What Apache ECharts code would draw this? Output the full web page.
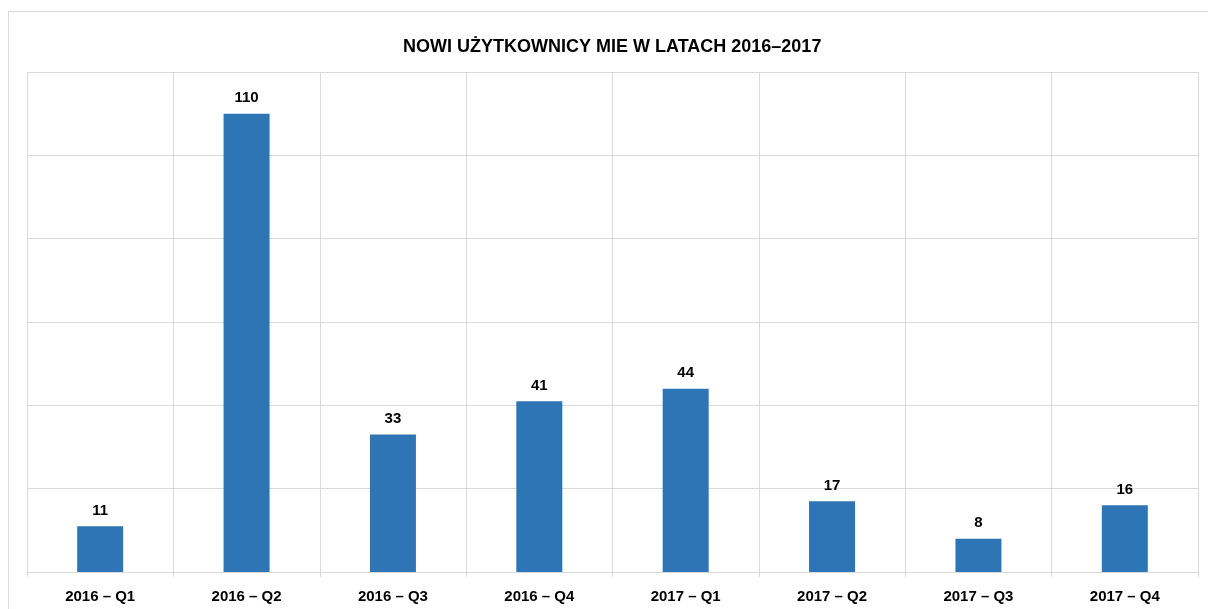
<!DOCTYPE html>
<html>
<head>
<meta charset="utf-8">
<script src="https://cdn.jsdelivr.net/npm/echarts@6/dist/echarts.min.js"></script>
<style>
html, body { margin: 0; padding: 0; background: #fff; }
#frame { position: absolute; left: 8px; top: 11px; width: 1210px; height: 610px; border: 1px solid #d9d9d9; box-sizing: border-box; }
#container { position: absolute; left: 0; top: 0; width: 1208px; height: 609px; }
</style>
</head>
<body>
<div id="frame"></div>
<div id="container"></div>
<script>
var dom = document.getElementById("container");
var myChart = echarts.init(dom);
var option = null;

// dane
var titleText = 'NOWI UŻYTKOWNICY MIE W LATACH 2016–2017';
var quarters = ['2016 – Q1', '2016 – Q2', '2016 – Q3', '2016 – Q4', '2017 – Q1', '2017 – Q2', '2017 – Q3', '2017 – Q4'];
var newUsers = [11, 110, 33, 41, 44, 17, 8, 16];

var fontName = 'Liberation Sans';

option = {
    animation: false,
    title: {
        text: titleText,
        left: 398,
        top: 33,
        textStyle: {
            fontFamily: fontName,
            fontSize: 18,
            fontWeight: 'bold',
            color: '#000'
        }
    },
    grid: {
        left: 27,
        right: 10,
        top: 72,
        bottom: 37,
        containLabel: false
    },
    xAxis: {
        type: 'category',
        data: quarters,
        axisLine: { lineStyle: { color: '#d9d9d9' } },
        axisTick: { show: true, length: 5, lineStyle: { color: '#d9d9d9' } },
        splitLine: { show: true, lineStyle: { color: '#d9d9d9' } },
        axisLabel: {
            margin: 17,
            fontFamily: fontName,
            fontSize: 15,
            fontWeight: 'bold',
            color: '#000'
        }
    },
    yAxis: {
        type: 'value',
        min: 0,
        max: 120,
        interval: 20,
        axisLabel: { show: false },
        axisLine: { show: false },
        axisTick: { show: false },
        splitLine: { show: true, lineStyle: { color: '#d9d9d9' } }
    },
    series: [
        {
            name: 'Nowi użytkownicy',
            type: 'bar',
            barWidth: 46,
            data: newUsers,
            itemStyle: { color: '#2E75B6' },
            label: {
                show: true,
                position: 'top',
                distance: 8,
                fontFamily: fontName,
                fontSize: 15,
                fontWeight: 'bold',
                color: '#000'
            }
        }
    ]
};
if (option && typeof option === "object") {
    myChart.setOption(option, true);
}
</script>
</body>
</html>
